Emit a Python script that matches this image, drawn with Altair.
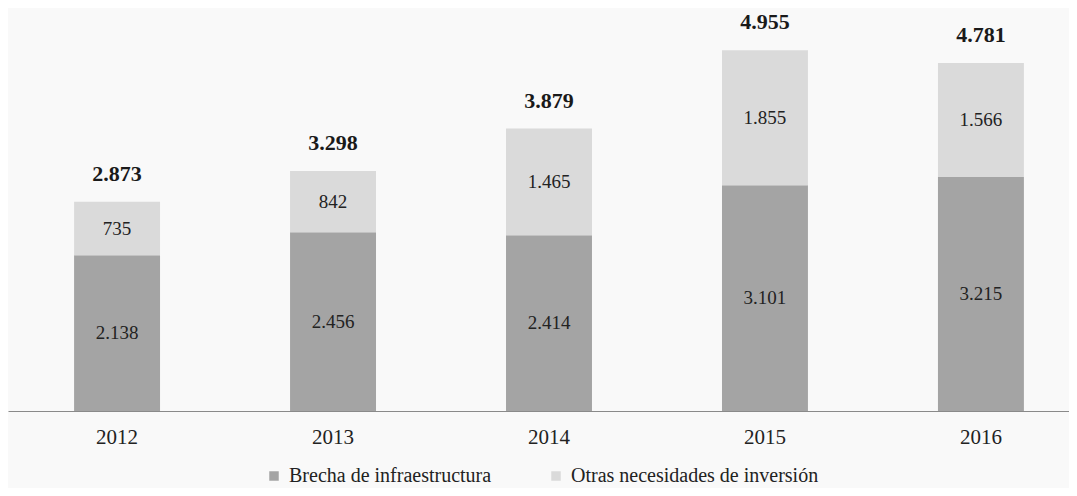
import altair as alt
import pandas as pd

years = ["2012", "2013", "2014", "2015", "2016"]
brecha = [2138, 2456, 2414, 3101, 3215]
otras = [735, 842, 1465, 1855, 1566]
totals = [2873, 3298, 3879, 4955, 4781]
series = ["Brecha de infraestructura", "Otras necesidades de inversión"]
colors = ["#a4a4a4", "#dadada"]

def fmt(v):
    return f"{v:,}".replace(",", ".")

rows = []
for i, y in enumerate(years):
    rows.append({"year": y, "serie": series[0], "value": brecha[i], "order": 0, "label": fmt(brecha[i])})
    rows.append({"year": y, "serie": series[1], "value": otras[i], "order": 1, "label": fmt(otras[i])})
df = pd.DataFrame(rows)
tot = pd.DataFrame({"year": years, "total": totals, "label": [fmt(t) for t in totals]})

FONT = "Liberation Serif"
xscale = alt.Scale(domain=years, range=[0, 1082], paddingInner=0.602, paddingOuter=0.306)
yscale = alt.Scale(domain=[0, 5398])

x = alt.X("year:N", scale=xscale, sort=years,
          axis=alt.Axis(title=None, ticks=False, labelAngle=0, labelFont=FONT, labelFontSize=21,
                        labelColor="#222222", labelPadding=15, domainColor="#8a8a8a", domainWidth=1))

bars = alt.Chart(df).mark_bar().encode(
    x=x,
    y=alt.Y("value:Q", stack="zero", scale=yscale, axis=None),
    color=alt.Color("serie:N", scale=alt.Scale(domain=series, range=colors),
                    legend=alt.Legend(title=None, orient="none", direction="horizontal",
                                      legendX=256, legendY=448, symbolType="square", symbolSize=90,
                                      symbolStrokeWidth=0, labelFont=FONT, labelFontSize=20,
                                      labelColor="#222222", columnPadding=54, labelOffset=5,
                                      labelLimit=400)),
    order=alt.Order("order:Q"),
)

seg = alt.Chart(df).transform_stack(
    stack="value", groupby=["year"], as_=["y0", "y1"], sort=[alt.SortField("order", "ascending")]
).transform_calculate(mid="(datum.y0 + datum.y1) / 2").mark_text(
    font=FONT, fontSize=19, color="#222222", baseline="middle"
).encode(
    x=alt.X("year:N", scale=xscale, sort=years),
    y=alt.Y("mid:Q", scale=yscale),
    text="label:N",
)

toplab = alt.Chart(tot).mark_text(
    font=FONT, fontSize=22, fontWeight="bold", color="#1a1a1a", baseline="middle", dy=-28
).encode(
    x=alt.X("year:N", scale=xscale, sort=years),
    y=alt.Y("total:Q", scale=yscale),
    text="label:N",
)

chart = alt.layer(bars, seg, toplab).properties(
    width=1061, height=393, background="#f9f9f9",
    padding={"left": 0, "right": 0, "top": 10, "bottom": 77},
    autosize=alt.AutoSizeParams(type="none"),
).configure_view(stroke=None)

chart.save("out.html", embed_options={"renderer": "svg", "actions": False})
